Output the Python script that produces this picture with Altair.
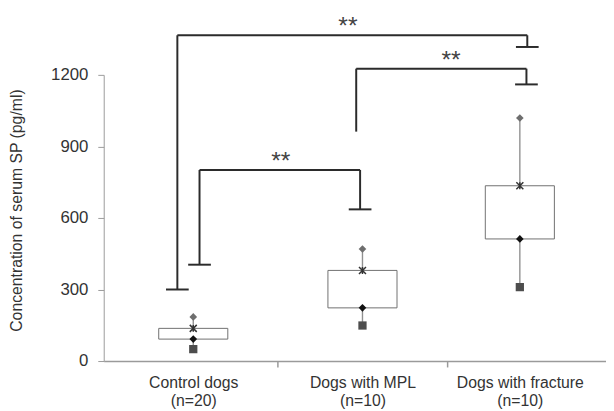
import altair as alt
import pandas as pd

# ---- data ----
groups = ["Control dogs", "Dogs with MPL", "Dogs with fracture"]
group_n = ["(n=20)", "(n=10)", "(n=10)"]
group_x = [0.5, 1.5, 2.43]          # category positions on the x axis
max_vals = [185, 470, 1019]
mean_vals = [137, 380, 735]
median_vals = [92, 223, 512]
min_vals = [50, 149, 310]

y_ticks = [0, 300, 600, 900, 1200]
x_ticks = [1, 2]

# significance brackets (data units)
br_left_x = [0.406, 0.537, 1.463]
br_left_y = [300, 404, 962]
br_right_x = [2.474, 1.486, 2.469]
br_right_y = [1317, 636, 1160]
br_top_y = [1366, 801, 1226]
br_left_cap = [True, True, False]
br_label = ["**", "**", "**"]
br_label_x = [1.414, 1.017, 2.023]

FONT = "Liberation Sans"
TEXT = "#333333"
AXIS = "#9a9a9a"

df = pd.DataFrame({
    "group": groups, "x": group_x, "max": max_vals, "mean": mean_vals,
    "median": median_vals, "min": min_vals,
})

segs = []
caps = []
for i in range(len(br_left_x)):
    lx, ly, rx, ry, ty = br_left_x[i], br_left_y[i], br_right_x[i], br_right_y[i], br_top_y[i]
    segs.append({"x": lx, "x2": lx, "y": ly, "y2": ty})
    segs.append({"x": lx, "x2": rx, "y": ty, "y2": ty})
    segs.append({"x": rx, "x2": rx, "y": ty, "y2": ry})
    if br_left_cap[i]:
        caps.append({"x": lx, "y": ly})
    caps.append({"x": rx, "y": ry})
seg_df = pd.DataFrame(segs)
cap_df = pd.DataFrame(caps)
lab_df = pd.DataFrame({"x": br_label_x, "y": br_top_y, "t": br_label})

x_scale = alt.Scale(domain=[0, 2.91], nice=False, zero=False)
y_scale = alt.Scale(domain=[0, 1200], nice=False)
Y_TITLE = "Concentration of serum SP (pg/ml)"
y_axis = alt.Axis(values=y_ticks, format="d", grid=False, domainColor=AXIS, tickColor=AXIS,
                  tickSize=6, labelFontSize=17, labelFont=FONT, labelColor=TEXT,
                  labelPadding=10, titleFontSize=16, titleFont=FONT,
                  titleFontWeight="normal", titleColor=TEXT, titleX=-88,
                  titleY=137, titleBaseline="middle", titleAngle=-90)

def Y(field):
    return alt.Y(f"{field}:Q", scale=y_scale, axis=y_axis, title=Y_TITLE)

def X_none(field="x"):
    return alt.X(f"{field}:Q", scale=x_scale, axis=None)

label_arrays = ",".join(f"['{g}','{n}']" for g, n in zip(groups, group_n))
pos_array = ",".join(str(p) for p in group_x)
label_expr = f"[{label_arrays}][indexof([{pos_array}], datum.value)]"

x_label_axis = alt.Axis(values=group_x, labelExpr=label_expr, ticks=False,
                        domain=True, domainColor=AXIS, domainWidth=1.5,
                        labelFontSize=16, labelFont=FONT, labelColor=TEXT,
                        labelPadding=14, labelLineHeight=18, labelBaseline="top",
                        labelFlush=False, labelOverlap=False, grid=False,
                        title=None, orient="bottom")
x_tick_axis = alt.Axis(values=x_ticks, labels=False, domain=False, ticks=True,
                       tickSize=6, tickColor=AXIS, tickWidth=1.5, grid=False,
                       title=None, orient="bottom")

base = alt.Chart(df)

whisk = base.mark_rule(color="#909090", strokeWidth=1.4).encode(
    x=alt.X("x:Q", scale=x_scale, axis=x_tick_axis),
    y=Y("min"), y2="max:Q")

box = base.mark_bar(size=70, fill="white", stroke="#707070", strokeWidth=1).encode(
    x=alt.X("x:Q", scale=x_scale, axis=x_label_axis),
    y=Y("median"), y2="mean:Q")

sq = base.mark_point(shape="square", filled=True, color="#4d4d4d", size=70, opacity=1).encode(
    x=X_none(), y=Y("min"))
med = base.mark_point(shape="diamond", filled=True, color="#111111", size=60, opacity=1).encode(
    x=X_none(), y=Y("median"))
star = base.mark_point(shape="M-1,-1L1,1M-1,1L1,-1M0,-1L0,1", filled=False,
                       color="#333333", strokeWidth=1.5, size=50, opacity=1).encode(
    x=X_none(), y=Y("mean"))
mx = base.mark_point(shape="diamond", filled=True, color="#6e6e6e", size=60, opacity=1).encode(
    x=X_none(), y=Y("max"))

brk = alt.Chart(seg_df).mark_rule(color="#2b2b2b", strokeWidth=2).encode(
    x=X_none(), x2="x2:Q", y=Y("y"), y2="y2:Q")
cap = alt.Chart(cap_df).mark_point(shape="M-1,0L1,0", filled=False, color="#2b2b2b",
                                   strokeWidth=2, size=529, opacity=1).encode(
    x=X_none(), y=Y("y"))
stars = alt.Chart(lab_df).mark_text(fontSize=25, font=FONT, color="#444444",
                                    align="center", baseline="alphabetic", dy=-1).encode(
    x=X_none(), y=Y("y"), text="t:N")

chart = alt.layer(whisk, box, sq, med, star, mx, brk, cap, stars).resolve_axis(
    x="independent").properties(
    width=509, height=290,
    autosize=alt.AutoSizeParams(type="none"),
    padding={"left": 97, "top": 65, "right": 0, "bottom": 58},
    background="white",
).configure_view(stroke=None)

chart.save("out.html", embed_options={"renderer": "svg", "actions": False})
